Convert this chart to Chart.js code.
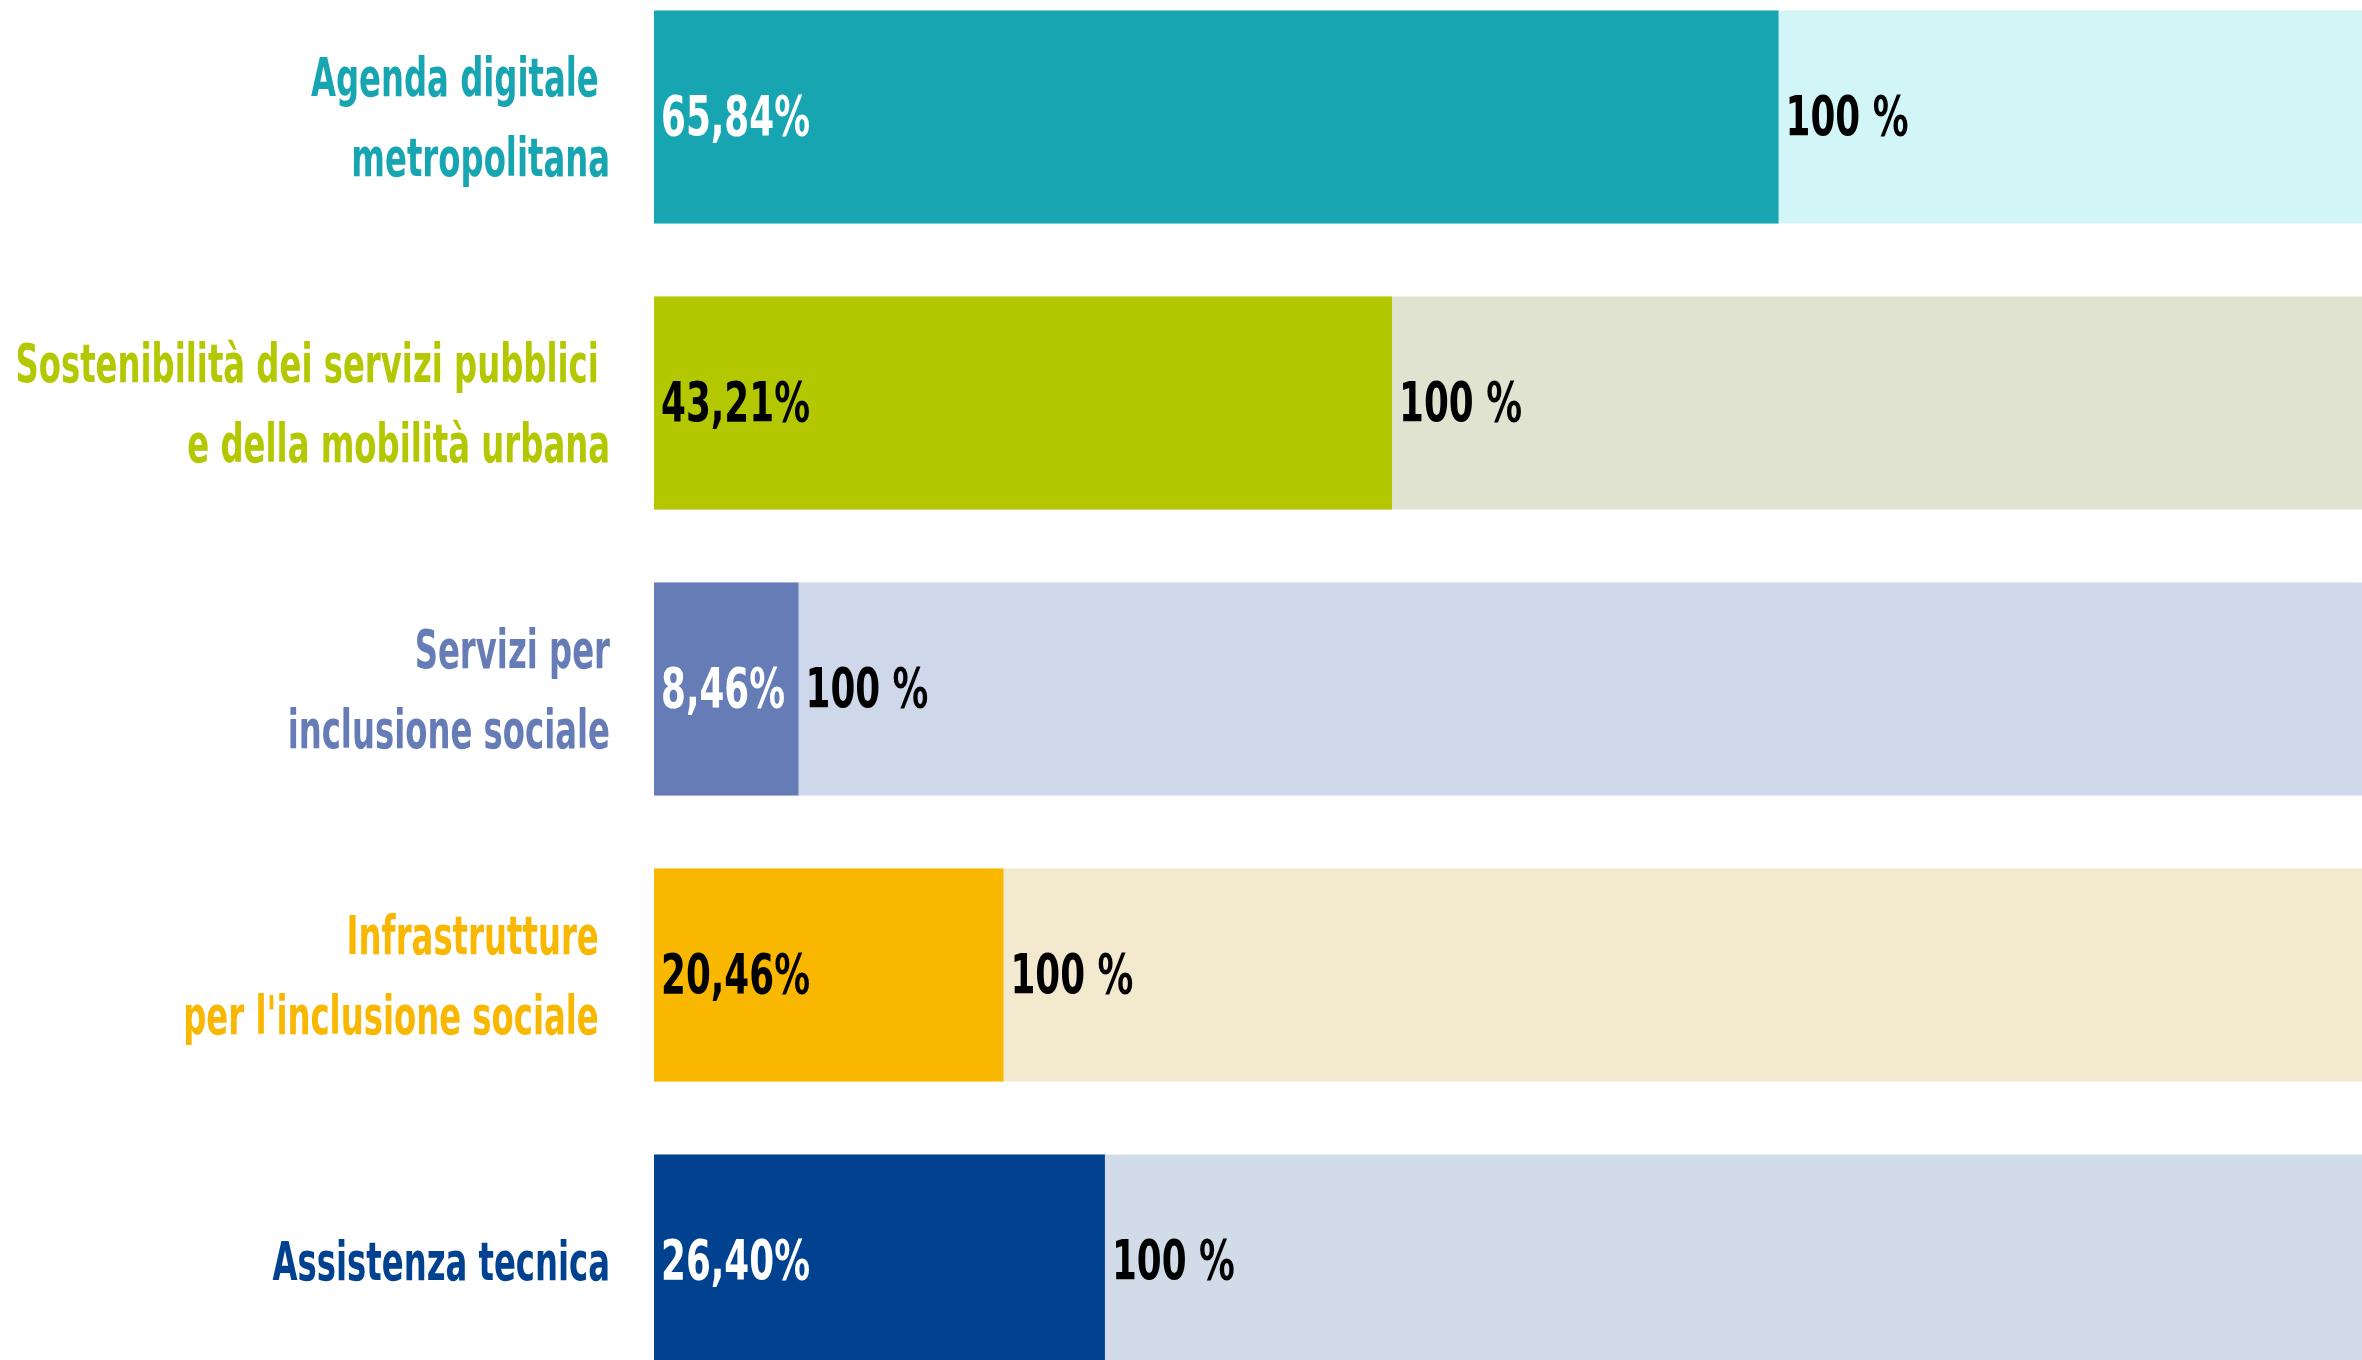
<!DOCTYPE html>
<html lang="it">
<head>
  <meta charset="UTF-8">
  <title>Avanzamento assi</title>
  <script src="https://cdn.jsdelivr.net/npm/chart.js"></script>
  <style>
    html, body {
      margin: 0;
      padding: 0;
      background: #ffffff;
      overflow: hidden;
    }
    #chart {
      position: absolute;
      left: 0;
      top: -26px;
    }
  </style>
</head>
<body>
  <canvas id="chart" width="2362" height="1430"></canvas>

  <script>
    // assi del programma (righe a capo come nel grafico originale)
    const categories = [
      ["Agenda digitale ", "metropolitana"],
      ["Sostenibilità dei servizi pubblici ", "e della mobilità urbana"],
      ["Servizi per", "inclusione sociale"],
      ["Infrastrutture ", "per l'inclusione sociale "],
      ["Assistenza tecnica"]
    ];
    const values = [65.84, 43.21, 8.46, 20.46, 26.40];
    const totals = [100, 100, 100, 100, 100];

    const darkColors = ["#17a5b1", "#b3c800", "#667cb7", "#f9b700", "#00428f"];
    const lightColors = ["#d2f5f8", "#e0e3cf", "#cfd8eb", "#f2e9ce", "#d2dce8"];
    const valueTextColors = ["#ffffff", "#000000", "#ffffff", "#000000", "#ffffff"];

    // il font originale e' molto stretto: DejaVu Condensed schiacciato in orizzontale
    const FONT = "'DejaVu Sans Condensed', 'Liberation Sans', sans-serif";

    function narrowText(ctx, text, x, y, align, squeeze) {
      ctx.save();
      ctx.translate(x, y);
      ctx.scale(squeeze, 1);
      ctx.textAlign = align;
      ctx.fillText(text, 0, 0);
      ctx.restore();
    }

    const barLabels = {
      id: "barLabels",
      afterDatasetsDraw(chart) {
        const ctx = chart.ctx;
        const meta = chart.getDatasetMeta(0);
        const yScale = chart.scales.y;
        ctx.save();
        ctx.textBaseline = "middle";

        // etichette degli assi a sinistra
        ctx.font = "bold 54px " + FONT;
        categories.forEach((lines, i) => {
          const cy = yScale.getPixelForTick(i) + 5;
          const lh = 80;
          const y0 = cy - (lines.length - 1) * lh / 2;
          ctx.fillStyle = darkColors[i];
          lines.forEach((line, k) => {
            narrowText(ctx, line, yScale.right - 44, y0 + k * lh, "right", 0.665);
          });
        });

        // valori dentro le barre
        ctx.font = "bold 56px " + FONT;
        meta.data.forEach((bar, i) => {
          ctx.fillStyle = valueTextColors[i];
          narrowText(ctx, values[i].toFixed(2).replace(".", ",") + "%", bar.base + 7, bar.y + 3, "left", 0.71);
          ctx.fillStyle = "#000000";
          narrowText(ctx, totals[i] + " %", bar.x + 7, bar.y + 3, "left", 0.71);
        });
        ctx.restore();
      }
    };

    new Chart(document.getElementById("chart"), {
      type: "bar",
      data: {
        labels: categories,
        datasets: [
          {
            data: values,
            backgroundColor: darkColors,
            grouped: false,
            barPercentage: 0.745,
            categoryPercentage: 1
          },
          {
            data: totals,
            backgroundColor: lightColors,
            grouped: false,
            barPercentage: 0.745,
            categoryPercentage: 1
          }
        ]
      },
      options: {
        indexAxis: "y",
        responsive: false,
        animation: false,
        layout: { padding: 0 },
        plugins: {
          legend: { display: false },
          tooltip: { enabled: false }
        },
        scales: {
          x: {
            display: false,
            min: 0,
            max: 100
          },
          y: {
            grid: { display: false },
            border: { display: false },
            ticks: { display: false },
            afterFit(scale) {
              scale.width = 654;
            }
          }
        }
      },
      plugins: [barLabels]
    });
  </script>
</body>
</html>
